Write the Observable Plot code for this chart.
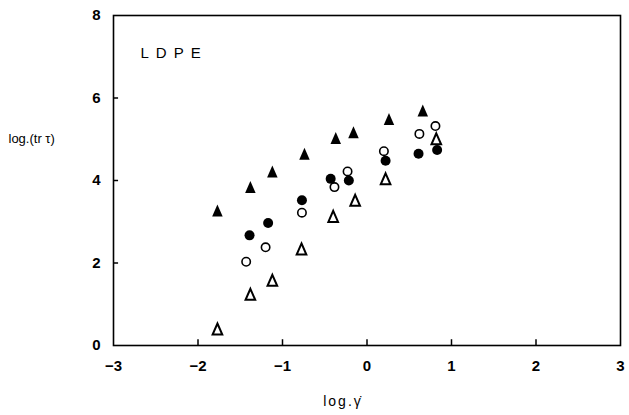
<!DOCTYPE html>
<html>
<head>
<meta charset="utf-8">
<script src="https://cdn.jsdelivr.net/npm/d3@7"></script>
<script src="https://cdn.jsdelivr.net/npm/@observablehq/plot@0.6"></script>
<style>
  body { margin: 0; background: #fff; }
  #chart svg { display: block; }
</style>
</head>
<body>
<div id="chart"></div>
<script>
// Axis ticks
const xTicks = [-3, -2, -1, 0, 1, 2, 3];
const yTicks = [0, 2, 4, 6, 8];

// log(shear rate) vs log(tr τ) for LDPE, four measurement sets
const filledTriX = [-1.77, -1.38, -1.12, -0.74, -0.37, -0.16, 0.26, 0.66];
const filledTriY = [3.27, 3.84, 4.22, 4.65, 5.03, 5.17, 5.49, 5.70];

const filledCircX = [-1.39, -1.17, -0.77, -0.43, -0.215, 0.22, 0.61, 0.83];
const filledCircY = [2.67, 2.97, 3.52, 4.04, 4.00, 4.48, 4.65, 4.74];

const openCircX = [-1.43, -1.20, -0.77, -0.385, -0.23, 0.20, 0.62, 0.81];
const openCircY = [2.03, 2.38, 3.22, 3.84, 4.22, 4.71, 5.13, 5.32];

const openTriX = [-1.77, -1.38, -1.12, -0.775, -0.40, -0.14, 0.22, 0.82];
const openTriY = [0.40, 1.24, 1.58, 2.34, 3.13, 3.52, 4.04, 5.01];

const pts = (xs, ys) => xs.map((x, i) => ({x, y: ys[i]}));

// A slightly taller-than-wide triangle glyph
const tallTriangle = {
  draw(ctx, size) {
    const r = Math.sqrt(size / Math.PI);
    ctx.moveTo(0, -1.2 * r);
    ctx.lineTo(1.05 * r, 1.2 * r);
    ctx.lineTo(-1.05 * r, 1.2 * r);
    ctx.closePath();
  }
};

const font = "'Liberation Sans', Arial, sans-serif";
const minus = d => d < 0 ? "\u2212" + (-d) : String(d);

const chart = Plot.plot({
  width: 629,
  height: 415,
  marginLeft: 113,
  marginRight: 9,
  marginTop: 15,
  marginBottom: 70,
  style: {fontFamily: font, background: "#fff", color: "#000"},
  x: {domain: [-3, 3]},
  y: {domain: [0, 8]},
  marks: [
    Plot.frame({stroke: "#000", strokeWidth: 1.6}),
    // short inward tick marks on the bottom and left edges
    Plot.ruleX(xTicks.slice(1, -1), {x: d => d, y1: 0, y2: 0.14, stroke: "#000", strokeWidth: 1.5}),
    Plot.ruleY(yTicks.slice(1, -1), {y: d => d, x1: -3, x2: -2.94, stroke: "#000", strokeWidth: 1.5}),
    Plot.axisX({ticks: xTicks, tickSize: 0, tickPadding: 15, fontSize: 15, fontWeight: "bold", tickFormat: minus, label: null}),
    Plot.axisY({ticks: yTicks, tickSize: 0, tickPadding: 13, fontSize: 15, fontWeight: "bold", tickFormat: minus, label: null}),
    Plot.dot(pts(filledTriX, filledTriY), {x: "x", y: "y", symbol: tallTriangle, r: 5, fill: "#000", stroke: "none"}),
    Plot.dot(pts(openTriX, openTriY), {x: "x", y: "y", symbol: tallTriangle, r: 4.6, fill: "#fff", stroke: "#000", strokeWidth: 2}),
    Plot.dot(pts(openCircX, openCircY), {x: "x", y: "y", r: 4.2, fill: "#fff", stroke: "#000", strokeWidth: 1.6}),
    Plot.dot(pts(filledCircX, filledCircY), {x: "x", y: "y", r: 5, fill: "#000", stroke: "none"}),
    Plot.text(["LDPE"], {frameAnchor: "top-left", dx: 27, dy: 32, textAnchor: "start", fontSize: 15, fill: "#000", className: "spaced"}),
    Plot.text(["log.(tr \u03C4)"], {frameAnchor: "top-left", dx: -105, dy: 118, textAnchor: "start", fontSize: 13, fill: "#000"}),
    Plot.text(["log.\u03B3\u0307"], {frameAnchor: "bottom", dx: -24, dy: 60, fontSize: 14, fill: "#000", className: "spaced2"})
  ]
});

document.getElementById("chart").appendChild(chart);
d3.select(chart).selectAll(".spaced text").style("letter-spacing", "7px");
d3.select(chart).selectAll(".spaced2 text").style("letter-spacing", "2px");
</script>
</body>
</html>
